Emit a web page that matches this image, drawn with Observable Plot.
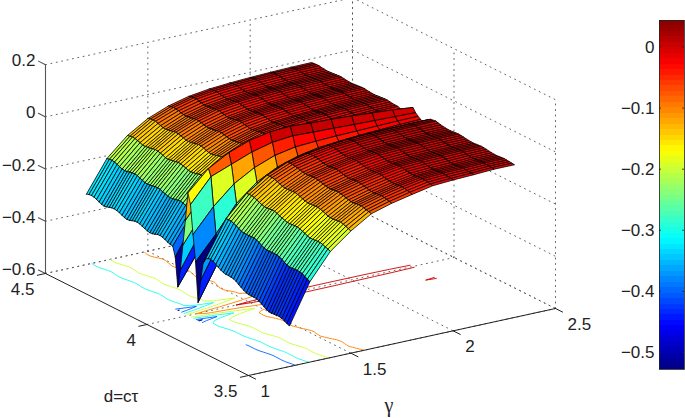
<!DOCTYPE html>
<html><head><meta charset="utf-8">
<style>html,body{margin:0;padding:0;background:#fff}#c{position:relative;width:685px;height:418px;overflow:hidden}#c svg{position:absolute;top:0}</style>
<script src="https://cdn.jsdelivr.net/npm/d3@7"></script>
<script src="https://cdn.jsdelivr.net/npm/@observablehq/plot@0.6"></script>
</head><body><div id="c"></div>
<script>
const gammaValues=[1.2,1.3,1.4,1.5,1.6,1.7,1.8,1.9,2.0,2.1,2.2,2.3];
const dValues=[4.5,4.4875,4.475,4.4625,4.45,4.4375,4.425,4.4125,4.4,4.3875,4.375,4.3625,4.35,4.3375,4.325,4.3125,4.3,4.2875,4.275,4.2625,4.25,4.2375,4.225,4.2125,4.2,4.1875,4.175,4.1625,4.15,4.1375,4.125,4.1125,4.1,4.0875,4.075,
 4.0625,4.05,4.0375,4.025,4.0125,4,3.9875,3.975,3.9625,3.95,3.9375,3.925,
 3.9125,3.9,3.8875,3.875,3.8625,3.85,3.8375,3.825,3.8125,3.8,3.7875,3.775,3.7625,3.75,3.7375,3.725,3.7125,3.7,3.6875,3.675,3.6625,3.65,3.6375,3.625,3.6125,3.6,3.5875,3.575,3.5625,3.55,3.5375,3.525,3.5125,3.5];
const z12=[-.33,-.327,-.326,-.327,-.331,-.336,-.34,-.342,-.34,-.337,-.334,-.333,-.335,-.338,-.343,-.347,-.349,-.348,-.344,-.341,-.34,-.342,-.346,-.35,-.354,-.356,-.355,-.352,-.348,-.347,-.349,-.353,-.358,-.361,-.363,
 -.4,-.51,-.44,-.34,-.24,-.13,-.17,-.28,-.38,-.53,-.44,-.37,
 -.348,-.343,-.34,-.344,-.35,-.357,-.363,-.367,-.369,-.369,-.37,-.372,-.376,-.384,-.39,-.396,-.401,-.403,-.403,-.403,-.404,-.408,-.414,-.42,-.426,-.43,-.43,-.429,-.428,-.428,-.43,-.435,-.44,-.445];
const z13=[-.211,-.209,-.208,-.21,-.214,-.217,-.222,-.223,-.222,-.219,-.217,-.216,-.218,-.222,-.226,-.23,-.231,-.23,-.228,-.226,-.225,-.227,-.231,-.234,-.238,-.239,-.238,-.236,-.234,-.233,-.235,-.239,-.243,-.247,-.248,
 -.27,-.39,-.31,-.23,-.14,-.054,-.08,-.19,-.29,-.39,-.3,-.24,
 -.212,-.211,-.212,-.215,-.22,-.225,-.231,-.233,-.233,-.233,-.232,-.232,-.235,-.24,-.246,-.251,-.254,-.254,-.253,-.253,-.253,-.256,-.261,-.267,-.272,-.275,-.275,-.274,-.273,-.274,-.276,-.282,-.287,-.292];
const z14=[-.14,-.138,-.136,-.137,-.14,-.143,-.147,-.148,-.146,-.145,-.142,-.14,-.141,-.144,-.147,-.152,-.153,-.151,-.149,-.147,-.145,-.146,-.149,-.152,-.156,-.157,-.155,-.154,-.151,-.149,-.15,-.153,-.156,-.16,-.161,
 -.19,-.27,-.21,-.15,-.08,-.01,-.05,-.12,-.19,-.27,-.2,-.15,
 -.132,-.131,-.131,-.133,-.138,-.142,-.146,-.149,-.149,-.148,-.147,-.147,-.15,-.155,-.158,-.162,-.165,-.165,-.164,-.163,-.163,-.165,-.17,-.173,-.178,-.181,-.181,-.18,-.179,-.179,-.181,-.186,-.189,-.193];
const z15=[-.092,-.089,-.088,-.088,-.091,-.095,-.098,-.099,-.097,-.095,-.093,-.091,-.092,-.095,-.098,-.102,-.102,-.101,-.099,-.096,-.094,-.095,-.098,-.102,-.105,-.106,-.104,-.102,-.099,-.098,-.098,-.101,-.105,-.108,-.109,
 -.13,-.18,-.13,-.09,-.035,.019,-.02,-.075,-.125,-.18,-.125,-.09,
 -.08,-.079,-.079,-.081,-.085,-.089,-.093,-.095,-.095,-.094,-.093,-.092,-.095,-.098,-.102,-.105,-.108,-.108,-.107,-.106,-.105,-.108,-.111,-.115,-.119,-.121,-.121,-.12,-.119,-.118,-.121,-.124,-.128,-.132];
const z16=[-.061,-.059,-.057,-.058,-.06,-.063,-.065,-.066,-.064,-.063,-.061,-.059,-.06,-.062,-.065,-.067,-.068,-.066,-.065,-.063,-.061,-.062,-.064,-.067,-.069,-.07,-.068,-.067,-.065,-.063,-.064,-.066,-.069,-.071,-.072,
 -.085,-.125,-.09,-.055,-.01,.035,0,-.045,-.085,-.125,-.08,-.055,
 -.047,-.046,-.046,-.048,-.05,-.053,-.056,-.057,-.058,-.056,-.055,-.055,-.057,-.059,-.062,-.065,-.066,-.067,-.065,-.064,-.064,-.066,-.068,-.071,-.074,-.076,-.076,-.074,-.073,-.073,-.075,-.078,-.08,-.083];
const z17=[-.041,-.039,-.037,-.037,-.04,-.042,-.045,-.045,-.043,-.042,-.04,-.038,-.038,-.041,-.043,-.046,-.046,-.044,-.043,-.04,-.039,-.039,-.042,-.044,-.047,-.047,-.045,-.044,-.041,-.04,-.04,-.043,-.045,-.048,-.048,
 -.06,-.09,-.06,-.03,.005,.04,.008,-.03,-.06,-.09,-.055,-.035,
 -.03,-.029,-.029,-.03,-.032,-.035,-.038,-.039,-.04,-.038,-.037,-.036,-.038,-.04,-.043,-.045,-.047,-.047,-.045,-.044,-.044,-.045,-.048,-.05,-.053,-.054,-.055,-.053,-.052,-.051,-.053,-.055,-.058,-.06];
const z18=[-.03,-.028,-.027,-.027,-.029,-.031,-.033,-.034,-.032,-.031,-.029,-.027,-.028,-.03,-.032,-.034,-.034,-.033,-.031,-.029,-.028,-.028,-.03,-.032,-.034,-.035,-.033,-.032,-.03,-.029,-.029,-.031,-.033,-.035,-.035,
 -.045,-.068,-.045,-.02,.008,.035,.005,-.025,-.045,-.068,-.04,-.025,
 -.017,-.016,-.015,-.017,-.019,-.022,-.024,-.025,-.025,-.023,-.022,-.021,-.023,-.025,-.028,-.03,-.031,-.031,-.03,-.028,-.028,-.029,-.032,-.034,-.036,-.037,-.037,-.036,-.034,-.034,-.035,-.038,-.04,-.043];
const z19=[-.024,-.022,-.021,-.021,-.023,-.025,-.027,-.027,-.026,-.024,-.022,-.021,-.022,-.023,-.025,-.027,-.027,-.026,-.024,-.023,-.022,-.022,-.024,-.025,-.027,-.028,-.026,-.025,-.023,-.022,-.022,-.024,-.026,-.028,-.028,
 -.035,-.055,-.035,-.015,.008,.032,.003,-.022,-.038,-.055,-.03,-.015,
 -.01,-.009,-.008,-.009,-.011,-.013,-.015,-.016,-.016,-.014,-.013,-.012,-.013,-.015,-.017,-.019,-.02,-.02,-.018,-.017,-.016,-.017,-.019,-.021,-.023,-.024,-.024,-.022,-.021,-.02,-.021,-.023,-.025,-.027];
const z20=[-.02,-.018,-.017,-.017,-.019,-.021,-.023,-.023,-.022,-.02,-.018,-.017,-.017,-.019,-.021,-.023,-.023,-.022,-.02,-.018,-.017,-.018,-.02,-.021,-.023,-.024,-.022,-.021,-.019,-.018,-.018,-.02,-.022,-.024,-.024,
 -.03,-.045,-.03,-.012,.006,.028,0,-.02,-.032,-.045,-.025,-.012,
 -.006,-.005,-.004,-.005,-.007,-.009,-.011,-.012,-.011,-.01,-.009,-.008,-.009,-.011,-.013,-.015,-.016,-.015,-.014,-.013,-.012,-.013,-.015,-.017,-.019,-.02,-.019,-.018,-.017,-.016,-.017,-.019,-.021,-.022];
const z21=[-.017,-.015,-.015,-.015,-.016,-.018,-.019,-.02,-.019,-.017,-.015,-.015,-.015,-.016,-.018,-.019,-.02,-.019,-.017,-.016,-.015,-.015,-.017,-.018,-.02,-.02,-.019,-.018,-.016,-.015,-.015,-.017,-.018,-.02,-.02,
 -.025,-.038,-.025,-.01,.005,.022,-.002,-.018,-.028,-.038,-.02,-.01,
 -.004,-.003,-.002,-.003,-.005,-.007,-.009,-.01,-.009,-.008,-.007,-.006,-.007,-.009,-.011,-.013,-.014,-.013,-.012,-.011,-.01,-.011,-.013,-.015,-.017,-.018,-.017,-.016,-.015,-.014,-.015,-.017,-.018,-.019];
const z22=[-.015,-.014,-.013,-.013,-.015,-.016,-.017,-.017,-.016,-.015,-.014,-.013,-.013,-.015,-.016,-.017,-.017,-.016,-.015,-.014,-.013,-.013,-.015,-.016,-.017,-.017,-.016,-.015,-.014,-.013,-.013,-.015,-.016,-.017,-.017,
 -.022,-.032,-.022,-.01,.003,.017,-.004,-.016,-.024,-.032,-.018,-.009,
 -.003,-.002,-.001,-.003,-.004,-.006,-.008,-.008,-.008,-.007,-.006,-.005,-.006,-.008,-.009,-.011,-.012,-.011,-.01,-.009,-.008,-.009,-.011,-.012,-.014,-.014,-.014,-.013,-.012,-.011,-.012,-.013,-.014,-.015];
const z23=[-.014,-.013,-.012,-.012,-.014,-.015,-.016,-.016,-.015,-.014,-.013,-.012,-.012,-.014,-.015,-.016,-.016,-.015,-.014,-.013,-.012,-.012,-.014,-.015,-.016,-.016,-.015,-.014,-.013,-.012,-.012,-.014,-.015,-.016,-.016,
 -.02,-.028,-.02,-.008,0,.009,-.006,-.015,-.022,-.028,-.016,-.008,
 -.002,-.001,.001,-.002,-.004,-.006,-.007,-.008,-.008,-.007,-.006,-.005,-.006,-.007,-.009,-.01,-.011,-.011,-.01,-.009,-.008,-.009,-.01,-.012,-.013,-.014,-.014,-.013,-.012,-.011,-.012,-.013,-.014,-.015];
const zTable=[z12,z13,z14,z15,z16,z17,z18,z19,z20,z21,z22,z23];

const contourLevels=[-.5,-.4,-.3,-.2,-.1,0];
const zTicks=[-.6,-.4,-.2,0,.2], zLabels=["−0.6","−0.4","−0.2","0","0.2"];
const gTicks=[1,1.5,2,2.5], gLabels=["1","1.5","2","2.5"];
const dTicks=[3.5,4,4.5], dLabels=["3.5","4","4.5"];
const cbTicks=[0,-.1,-.2,-.3,-.4,-.5], cbLabels=["0","−0.1","−0.2","−0.3","−0.4","−0.5"];
const cMin=-.528, cMax=.0435;
const jetStops=[0,.125,.375,.625,.875,1];
const jetColors=["#000080","#0000ff","#00ffff","#ffff00","#ff0000","#800000"];
const color={type:"linear",domain:jetStops.map(t=>cMin+t*(cMax-cMin)),range:jetColors,clamp:true};

// fixed MATLAB-style orthographic view
const px=(g,d)=>45+(g-1)/1.5*307+(4.5-d)*203;
const py=(g,d,z)=>273-(g-1)/1.5*67+(4.5-d)*102-(z+.6)*261;
const P=(g,d,z)=>({x:px(g,d),y:py(g,d,z)});

// surface quads, far to near
const quads=[];
let qid=0;
for(let j=0;j<dValues.length-1;j++)for(let i=gammaValues.length-2;i>=0;i--){
  const v=zTable[i][j+1],id=qid++;
  for(const [a,b] of [[i,j],[i+1,j],[i+1,j+1],[i,j+1],[i,j]])
    quads.push({...P(gammaValues[a],dValues[b],zTable[a][b]),q:id,v});
}
const segs=[];
for(const L of contourLevels)for(let j=0;j<dValues.length-1;j++)for(let i=0;i<gammaValues.length-1;i++){
  const c=[[i,j],[i+1,j],[i+1,j+1],[i,j+1]],pts=[];
  for(let k=0;k<4;k++){
    const [a,b]=c[k],[e,f]=c[(k+1)%4],za=zTable[a][b],zb=zTable[e][f];
    if((za<L)!==(zb<L)){const t=(L-za)/(zb-za);
      pts.push(P(gammaValues[a]+t*(gammaValues[e]-gammaValues[a]),dValues[b]+t*(dValues[f]-dValues[b]),-.6));}
  }
  for(let k=0;k+1<pts.length;k+=2)segs.push({x1:pts[k].x,y1:pts[k].y,x2:pts[k+1].x,y2:pts[k+1].y,L});
}
// box grid
const grid=[];let gid=0;
const gl=(a,b)=>{const id=gid++;grid.push({...a,id},{...b,id});};
for(const z of zTicks){gl(P(1,4.5,z),P(2.5,4.5,z));gl(P(2.5,4.5,z),P(2.5,3.5,z));}
for(const g of gTicks){gl(P(g,4.5,-.6),P(g,4.5,.2));if(g>1)gl(P(g,4.5,-.6),P(g,3.5,-.6));}
for(const d of dTicks){gl(P(2.5,d,-.6),P(2.5,d,.2));gl(P(1,d,-.6),P(2.5,d,-.6));}

const tk=[];let tid=0;
const tl=(a,b,s)=>{const id=tid++;tk.push({...a,id,s},{...b,id,s});};
for(const z of zTicks)tl(P(1,4.5,z),P(1,4.535,z),0);
for(const d of dTicks)tl(P(1,d,-.6),P(.96,d,-.6),1);
for(const g of gTicks)tl(P(g,3.5,-.6),P(g,3.465,-.6),1);
tl(P(1,4.5,-.6),P(1,4.5,.2),0);
tl(P(1,4.5,-.6),P(1,3.5,-.6),1);
tl(P(1,3.5,-.6),P(2.5,3.5,-.6),1);

const font={fontFamily:"'Liberation Sans',Arial,sans-serif",fontSize:17,fill:"#222"};
const main=Plot.plot({width:685,height:418,margin:0,
  x:{domain:[0,685],range:[0,685],axis:null},
  y:{domain:[0,418],range:[0,418],axis:null},
  color,
  style:{background:"#fff"},
  marks:[
    Plot.line(grid,{x:"x",y:"y",z:"id",stroke:"#555",strokeWidth:.9,strokeDasharray:"1,4.5"}),
    Plot.link(segs,{x1:"x1",y1:"y1",x2:"x2",y2:"y2",stroke:"L",strokeWidth:.9}),
    Plot.line(tk.filter(d=>d.s==0),{x:"x",y:"y",z:"id",stroke:"#555",strokeWidth:1.1}),
    Plot.line(tk.filter(d=>d.s==1),{x:"x",y:"y",z:"id",stroke:"#222",strokeWidth:1}),
    Plot.line(quads,{x:"x",y:"y",z:"q",fill:"v",stroke:"#000",strokeWidth:.8,strokeLinejoin:"round"}),
    Plot.text(zTicks.map((z,i)=>({...P(1,4.5,z),t:zLabels[i]})),{x:"x",y:"y",text:"t",textAnchor:"end",dx:-10,dy:-4,...font}),
    Plot.text(dTicks.map((d,i)=>({...P(1,d,-.6),t:dLabels[i]})),{x:"x",y:"y",text:"t",textAnchor:"end",dx:-11,dy:16,...font}),
    Plot.text(gTicks.map((g,i)=>({...P(g,3.5,-.6),t:gLabels[i]})),{x:"x",y:"y",text:"t",textAnchor:"start",dx:12,dy:16,...font}),
    Plot.text([P(1,4,-.6)],{x:"x",y:"y",text:()=>"d=cτ",textAnchor:"middle",dx:-26,dy:72,...font}),
    Plot.text([P(1.75,3.5,-.6)],{x:"x",y:"y",text:()=>"γ",textAnchor:"middle",dx:-13,dy:64,...font,fontFamily:"'Liberation Serif',serif",fontSize:20})
  ]});
const levels=d3.range(64);
const step=(cMax-cMin)/64;
const bar=Plot.plot({width:85,height:418,marginLeft:59,marginRight:1,marginTop:20,marginBottom:49,
  x:{domain:[0,1],axis:null},
  y:{domain:[cMin,cMax],axis:null},
  color,
  marks:[
    Plot.rect(levels,{x1:0,x2:1,y1:l=>cMin+l*step,y2:l=>cMin+(l+1)*step,fill:l=>cMin+(l+.5)*step,shapeRendering:"crispEdges"}),
    Plot.ruleY(cbTicks,{x1:0,x2:.08,stroke:"#222",strokeWidth:.8}),
    Plot.ruleY(cbTicks,{x1:.92,x2:1,stroke:"#222",strokeWidth:.8}),
    Plot.frame({stroke:"#222",strokeWidth:.8}),
    Plot.text(cbTicks,{x:0,y:d=>d,text:(d,i)=>cbLabels[i],textAnchor:"end",dx:-5,...font})
  ]});
bar.style.left="600px";bar.style.overflow="visible";
main.style.left="0";
const c=document.getElementById("c");c.append(main,bar);
</script></body></html>
